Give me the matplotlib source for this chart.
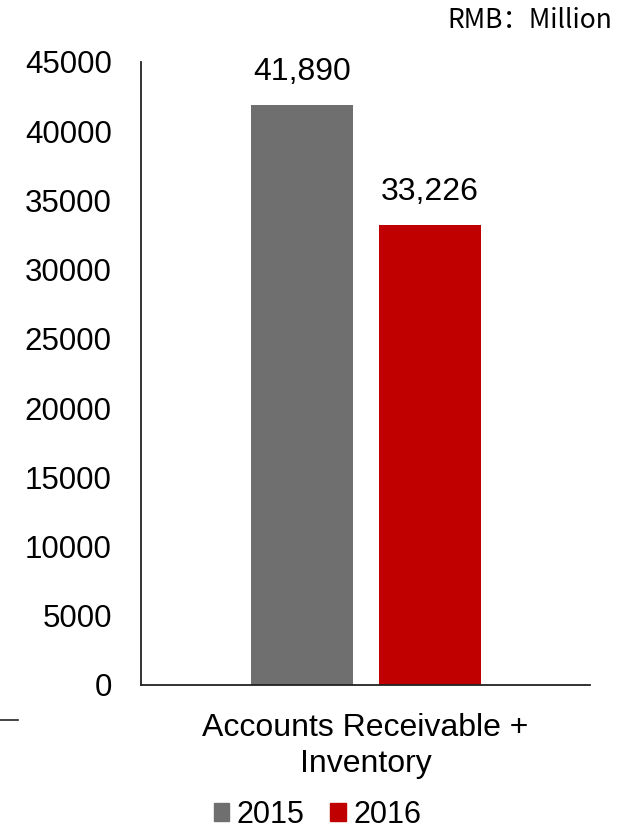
import matplotlib.pyplot as plt
from matplotlib.patches import Patch
from matplotlib.lines import Line2D

plt.rcParams['font.family'] = ['Liberation Sans', 'DejaVu Sans']

category = 'Accounts Receivable +\nInventory'
years = ['2015', '2016']
values = [41890, 33226]
colors = ['#6f6f6f', '#c00000']
y_ticks = [0, 5000, 10000, 15000, 20000, 25000, 30000, 35000, 40000, 45000]

fig = plt.figure(figsize=(6.31, 8.33), dpi=100)
ax = fig.add_axes([0.2235, 0.1777, 0.7115, 0.7479])

width = 0.227
offsets = [-0.142, 0.143]
for off, val, col in zip(offsets, values, colors):
    ax.bar(off, val, width=width, color=col)
    ax.text(off, val + 1300, "{:,}".format(val), ha='center', va='bottom', fontsize=23)

ax.set_xlim(-0.5, 0.5)
ax.set_ylim(0, 45000)
ax.set_yticks(y_ticks)
ax.set_yticklabels([str(t) for t in y_ticks], fontsize=22.5)
ax.tick_params(axis='y', length=0, pad=21)
ax.set_xticks([0])
ax.set_xticklabels([category], fontsize=23, linespacing=1.25)
ax.tick_params(axis='x', length=0, pad=20)

for side in ['top', 'right']:
    ax.spines[side].set_visible(False)
for side in ['left', 'bottom']:
    ax.spines[side].set_color('#222222')
    ax.spines[side].set_linewidth(1.3)

handles = [Patch(color=c) for c in colors]
fig.legend(handles, years, loc='center', bbox_to_anchor=(0.503, 0.022), ncol=2,
           frameon=False, fontsize=22, handlelength=0.5, handleheight=0.5,
           handletextpad=0.25, columnspacing=0.85, borderpad=0.1)

fig.text(0.97, 0.975, 'RMB：Million', ha='right', va='center', fontsize=19,
         family=['Noto Sans CJK SC', 'DejaVu Sans'])

fig.add_artist(Line2D([0.0, 0.029], [0.1356, 0.1356], color='#222222', lw=1.2))

fig.savefig('out.png', dpi=100)
